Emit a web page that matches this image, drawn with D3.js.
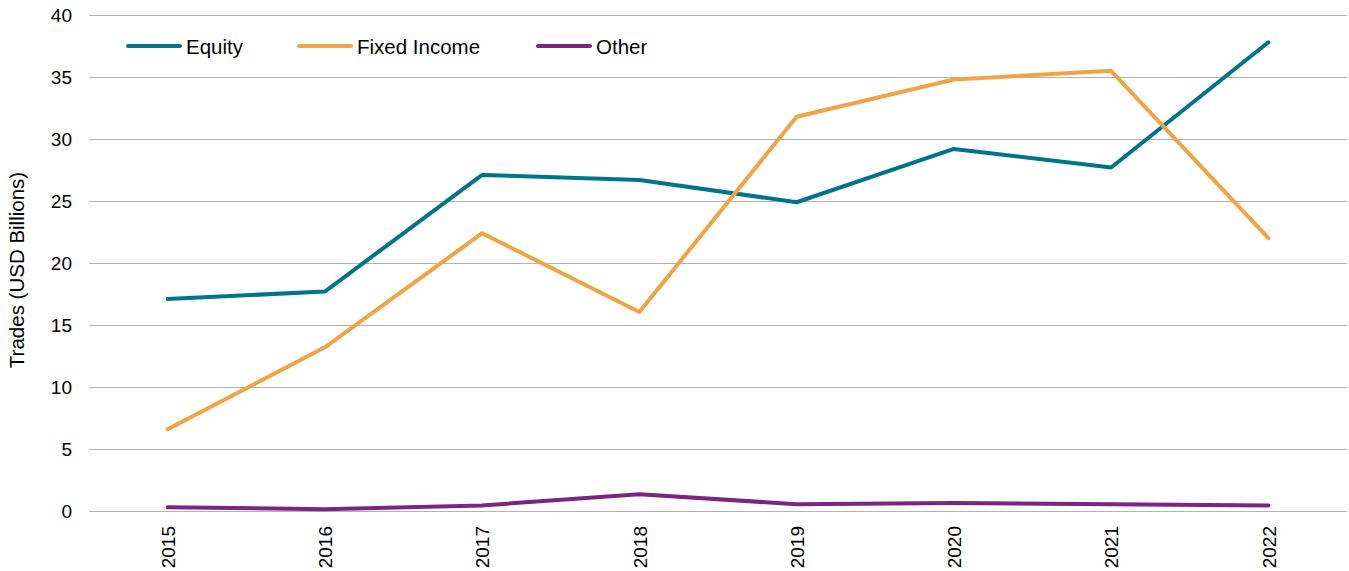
<!DOCTYPE html>
<html>
<head>
<meta charset="utf-8">
<script src="https://cdn.jsdelivr.net/npm/d3@7"></script>
<style>
  html, body { margin: 0; padding: 0; background: #fff; }
  svg { display: block; font-family: "Liberation Sans", Arial, sans-serif; }
</style>
</head>
<body>
<svg id="chart" width="1349" height="571"></svg>
<script>
// Annual trade volume by asset class (USD billions)
const years = ["2015", "2016", "2017", "2018", "2019", "2020", "2021", "2022"];
const equity = [17.1, 17.7, 27.1, 26.7, 24.9, 29.2, 27.7, 37.8];
const fixedIncome = [6.6, 13.2, 22.4, 16.05, 31.8, 34.8, 35.5, 22.0];
const other = [0.3, 0.15, 0.45, 1.35, 0.55, 0.65, 0.55, 0.45];
const yTicks = [0, 5, 10, 15, 20, 25, 30, 35, 40];

const seriesList = [
  { name: "Equity", values: equity, color: "#00758A" },
  { name: "Fixed Income", values: fixedIncome, color: "#F2A444" },
  { name: "Other", values: other, color: "#7B2482" }
];

const svg = d3.select("#chart");
const margin = { left: 89, right: 2, top: 15, bottom: 60 };
const W = 1349, H = 571;

const x = d3.scalePoint().domain(years).range([margin.left, W - margin.right]).padding(0.5);
const y = d3.scaleLinear().domain([0, 40]).range([H - margin.bottom, margin.top]);

// horizontal gridlines
svg.append("g")
  .selectAll("line")
  .data(yTicks)
  .join("line")
  .attr("x1", margin.left)
  .attr("x2", W - margin.right)
  .attr("y1", d => Math.round(y(d)) + 0.5)
  .attr("y2", d => Math.round(y(d)) + 0.5)
  .attr("stroke", "#b3b3b3")
  .attr("stroke-width", 1);

// y axis labels
const yAxis = svg.append("g")
  .attr("transform", `translate(${margin.left},0)`)
  .call(d3.axisLeft(y).tickValues(yTicks).tickSize(0).tickPadding(17));
yAxis.select(".domain").remove();
yAxis.selectAll("text")
  .attr("font-size", 19)
  .attr("fill", "#000")
  .attr("font-family", "Liberation Sans, Arial, sans-serif");

// x axis labels, rotated
const xAxis = svg.append("g")
  .attr("transform", `translate(0,${y(0)})`)
  .call(d3.axisBottom(x).tickSize(0));
xAxis.select(".domain").remove();
xAxis.selectAll("text")
  .attr("font-size", 19)
  .attr("fill", "#000")
  .attr("font-family", "Liberation Sans, Arial, sans-serif")
  .attr("transform", "rotate(-90)")
  .attr("text-anchor", "end")
  .attr("x", -15)
  .attr("y", 0)
  .attr("dy", "0.35em");

// y axis title
svg.append("text")
  .attr("transform", `translate(24,${(margin.top + y(0)) / 2 + 7}) rotate(-90)`)
  .attr("text-anchor", "middle")
  .attr("font-size", 20.5)
  .attr("fill", "#000")
  .text("Trades (USD Billions)");

// series lines
const line = d3.line()
  .x((d, i) => x(years[i]))
  .y(d => y(d));

svg.append("g")
  .selectAll("path")
  .data(seriesList)
  .join("path")
  .attr("d", s => line(s.values))
  .attr("fill", "none")
  .attr("stroke", s => s.color)
  .attr("stroke-width", 4)
  .attr("stroke-linejoin", "round")
  .attr("stroke-linecap", "round");

// legend
const legendPos = [128, 299, 538];
const legend = svg.append("g")
  .selectAll("g")
  .data(seriesList)
  .join("g")
  .attr("transform", (s, i) => `translate(${legendPos[i]},46)`);
legend.append("line")
  .attr("x1", 0).attr("x2", 52)
  .attr("y1", 0).attr("y2", 0)
  .attr("stroke", s => s.color)
  .attr("stroke-width", 4)
  .attr("stroke-linecap", "round");
legend.append("text")
  .attr("x", 58)
  .attr("y", 7.5)
  .attr("font-size", 20.5)
  .attr("fill", "#000")
  .text(s => s.name);
</script>
</body>
</html>
